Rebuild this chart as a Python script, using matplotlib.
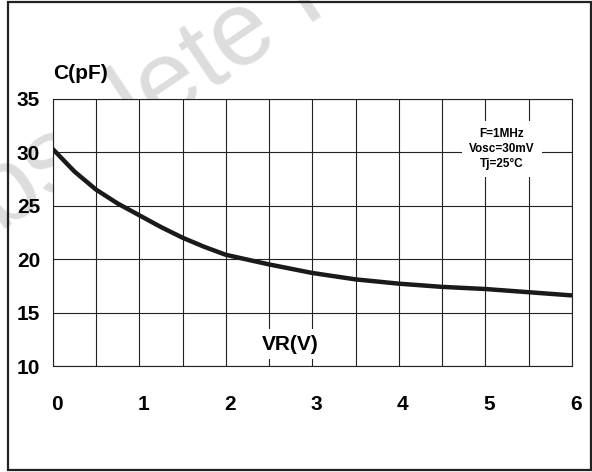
import numpy as np
from matplotlib import pyplot as plt
from matplotlib.patches import Rectangle
from matplotlib.transforms import ScaledTranslation

# values
vr = [0, 0.25, 0.5, 0.75, 1, 1.25, 1.5, 1.75, 2, 2.5, 3, 3.5, 4, 4.5, 5, 5.5, 6]
cap = [30.3, 28.2, 26.5, 25.2, 24.1, 23.0, 22.0, 21.15, 20.4, 19.5, 18.7,
       18.1, 17.7, 17.4, 17.2, 16.9, 16.6]
x_ticks = [0, 1, 2, 3, 4, 5, 6]
y_ticks = [10, 15, 20, 25, 30, 35]
conditions = "F=1MHz\nVosc=30mV\nTj=25°C"

plt.rcParams['font.family'] = ['Liberation Sans', 'DejaVu Sans']
plt.rcParams['font.weight'] = 'bold'

fig = plt.figure(figsize=(5.92, 4.72), dpi=100)

# watermark (sits under the white axes)
fig.text(-0.115, 0.41, "Obsolete Product(s)", fontsize=76, color='#dddddd',
         rotation=34, rotation_mode='anchor', ha='left', va='baseline',
         fontweight='normal', zorder=-1)

# outer frame
fig.patches.append(Rectangle((8 / 592, 2 / 472), 583 / 592, 468 / 472,
                             transform=fig.transFigure, fill=False,
                             edgecolor='#222222', linewidth=1.6, zorder=1))

ax = fig.add_axes([52.7 / 592, 106 / 472, 519.3 / 592, 267.3 / 472])
ax.set_facecolor('white')

ax.plot(vr, cap, color='#1a1a1a', linewidth=3.2, solid_capstyle='butt', zorder=3)

ax.set_xlim(0, 6)
ax.set_ylim(10, 35)
ax.set_xticks(x_ticks)
ax.set_xticks(np.arange(0.5, 6, 1), minor=True)
ax.set_yticks(y_ticks)
ax.grid(True, which='both', color='#222222', linewidth=0.8)
ax.tick_params(which='both', length=0)
ax.tick_params(axis='x', pad=21, labelsize=15)
ax.tick_params(axis='y', pad=9, labelsize=15)
shift = ScaledTranslation(4 / 100, 0, fig.dpi_scale_trans)
for lbl in ax.get_xticklabels():
    lbl.set_transform(lbl.get_transform() + shift)
for lbl in ax.get_xticklabels() + ax.get_yticklabels():
    lbl.set_fontweight('bold')
for s in ax.spines.values():
    s.set_linewidth(0.8)
    s.set_color('#222222')

fig.text(53 / 592, 1 - 73.5 / 472, "C(pF)", fontsize=15, fontweight='bold',
         ha='left', va='center')

ax.text(2.75, 12.05, "VR(V)", fontsize=15, fontweight='bold', ha='center',
        va='center', bbox=dict(facecolor='white', edgecolor='none', pad=4),
        zorder=4)

ax.text(5.19, 30.28, conditions, fontsize=8.5, fontweight='bold', ha='center',
        va='center', linespacing=1.35,
        bbox=dict(facecolor='white', edgecolor='none', pad=5), zorder=4)

fig.savefig("out.png", dpi=100)
